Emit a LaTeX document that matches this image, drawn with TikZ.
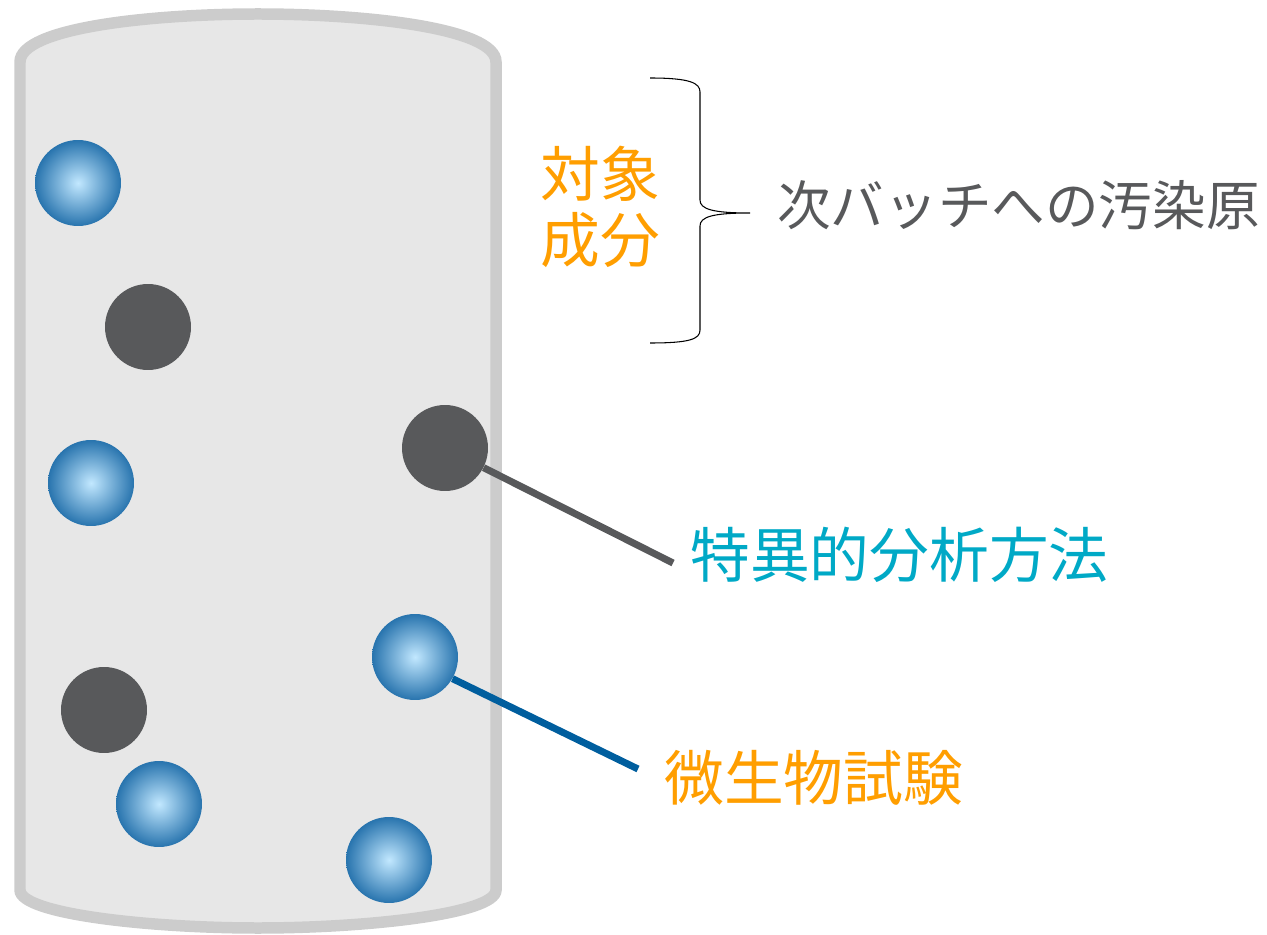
\documentclass[tikz,border=0pt]{standalone}
\usepackage{fontspec}
\setmainfont{Noto Sans CJK JP}
\usepackage{tikz}
\usetikzlibrary{positioning}

\definecolor{tankedge}{HTML}{CCCCCC}
\definecolor{tankfill}{HTML}{E7E7E7}
\definecolor{darkball}{HTML}{58595B}
\definecolor{ballhi}{HTML}{C2E8FF}
\definecolor{ballrim}{HTML}{2874AE}
\definecolor{lineblue}{HTML}{005E9E}
\definecolor{textcyan}{HTML}{00A9C6}
\definecolor{textorange}{HTML}{FF9E00}
\definecolor{textgray}{HTML}{58595B}

\begin{document}
\begin{tikzpicture}[x=0.02cm, y=-0.02cm,
	blueball/.style={circle, minimum size=1.72cm, inner sep=0pt, shade, inner color=ballhi, outer color=ballrim},
	greyball/.style={circle, minimum size=1.72cm, inner sep=0pt, fill=darkball},
	lbl/.style={font=\fontsize{34}{40}\selectfont, inner sep=0pt, anchor=west},
	pointer/.style={line width=0.14cm}]
	\useasboundingbox (0,0) rectangle (1267,935);
	
	% tank
	\draw[tankedge, fill=tankfill, line width=0.23cm]
		(20,890) -- (20,62) .. controls (20,28) and (150,14) .. (258,14)
		.. controls (366,14) and (496,28) .. (496,62) -- (496,890)
		.. controls (496,914) and (366,928) .. (258,928)
		.. controls (150,928) and (20,914) .. (20,890) -- cycle;
	
	% particles
	\node[blueball] (b1) at (78,183) {};
	\node[greyball] (g1) at (148,327) {};
	\node[blueball] (b2) at (91,483) {};
	\node[greyball] (g2) at (445,448) {};
	\node[blueball] (b3) at (415,657) {};
	\node[greyball] (g3) at (104,710) {};
	\node[blueball] (b4) at (159,804) {};
	\node[blueball] (b5) at (389,860) {};
	
	% labels
	\node[lbl, text=textcyan] (spec) at (690,555) {特異的分析方法};
	\node[lbl, text=textorange] (micro) at (664,778) {微生物試験};
	\node[font=\fontsize{34}{40}\selectfont, text=textorange, align=center, inner sep=0pt] (target) at (600,207) {対象\\[-2pt]成分};
	\node[lbl, font=\fontsize{30.5}{36}\selectfont, text=textgray] (contam) at (777,205) {次バッチへの汚染原};
	
	\coordinate (specend) at (673,563);
	\coordinate (microend) at (638,769);
	\coordinate (tip) at (750,213);
	
	\draw[pointer, darkball] (g2.-27) -- (specend);
	\draw[pointer, lineblue] (b3.-30) -- (microend);
	
	% brace
	\draw[black, line width=0.6pt]
		(650,78) .. controls (690,78) and (700,83) .. (700,92) -- (700,200)
		.. controls (700,209) and (712,213) .. (tip)
		.. controls (712,213) and (700,217) .. (700,226) -- (700,330)
		.. controls (700,339) and (690,343) .. (650,343);
\end{tikzpicture}
\end{document}
